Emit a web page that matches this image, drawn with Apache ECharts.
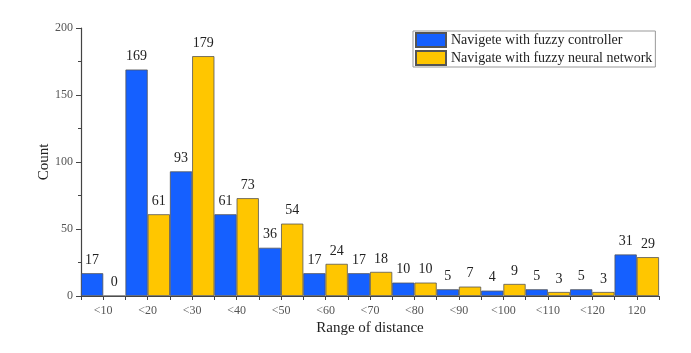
<!DOCTYPE html>
<html>
<head>
<meta charset="utf-8">
<script src="https://cdn.jsdelivr.net/npm/echarts@6/dist/echarts.min.js"></script>
<style>
  html, body { margin: 0; padding: 0; background: #fff; }
  #chart { width: 691px; height: 353px; }
</style>
</head>
<body>
<div id="chart"></div>
<script>
const categories = ['<10', '<20', '<30', '<40', '<50', '<60', '<70', '<80', '<90', '<100', '<110', '<120', '120']
const controllerCounts = [17, 169, 93, 61, 36, 17, 17, 10, 5, 4, 5, 5, 31]
const neuralCounts = [0, 61, 179, 73, 54, 24, 18, 10, 7, 9, 3, 3, 29]
const seriesNames = ['Navigete with fuzzy controller', 'Navigate with fuzzy neural network']

const font = '"Liberation Serif", "Times New Roman", serif'
const axisColor = '#444'

const chart = echarts.init(document.getElementById('chart'))

function barSeries(name, data, color) {
  return {
    name,
    type: 'bar',
    xAxisIndex: 0,
    data,
    barGap: '0%',
    barCategoryGap: '0%',
    itemStyle: { color, borderColor: '#555', borderWidth: 0.8 },
    label: {
      show: true,
      position: 'top',
      distance: 6,
      fontFamily: font,
      fontSize: 14,
      color: '#222'
    }
  }
}

chart.setOption({
  animation: false,
  grid: { left: 81, right: 32, top: 28, bottom: 57 },
  legend: {
    left: 413,
    top: 31,
    orient: 'vertical',
    itemWidth: 30,
    itemHeight: 14,
    itemGap: 2,
    padding: [1, 3, 1, 2],
    borderColor: '#999',
    borderWidth: 1,
    backgroundColor: '#fff',
    textStyle: { fontFamily: font, fontSize: 14, color: '#222' },
    data: seriesNames.map(name => ({ name, icon: 'rect' }))
  },
  xAxis: [
    {
      type: 'category',
      data: categories,
      position: 'bottom',
      name: 'Range of distance',
      nameLocation: 'middle',
      nameGap: 25,
      nameMoveOverlap: false,
      nameTextStyle: { fontFamily: font, fontSize: 15, color: '#222' },
      axisLine: { lineStyle: { color: axisColor, width: 1.2 } },
      axisTick: { show: true, length: 4, lineStyle: { color: axisColor } },
      axisLabel: { fontFamily: font, fontSize: 12, color: '#555', margin: 9, interval: 0 }
    },
    {
      type: 'category',
      data: categories,
      position: 'bottom',
      axisLine: { show: false },
      axisTick: { show: true, alignWithLabel: true, length: 4, lineStyle: { color: axisColor } },
      axisLabel: { show: false }
    }
  ],
  yAxis: {
    type: 'value',
    min: 0,
    max: 200,
    interval: 50,
    name: 'Count',
    nameLocation: 'middle',
    nameGap: 29,
    nameMoveOverlap: false,
    nameTextStyle: { fontFamily: font, fontSize: 15, color: '#222' },
    axisLine: { show: true, lineStyle: { color: axisColor, width: 1.2 } },
    axisTick: { show: true, length: 5, lineStyle: { color: axisColor } },
    minorTick: { show: true, splitNumber: 2, length: 3, lineStyle: { color: axisColor } },
    splitLine: { show: false },
    axisLabel: { fontFamily: font, fontSize: 12, color: '#555', margin: 8 }
  },
  series: [
    barSeries(seriesNames[0], controllerCounts, '#1560ff'),
    barSeries(seriesNames[1], neuralCounts, '#ffc600')
  ]
})
</script>
</body>
</html>
